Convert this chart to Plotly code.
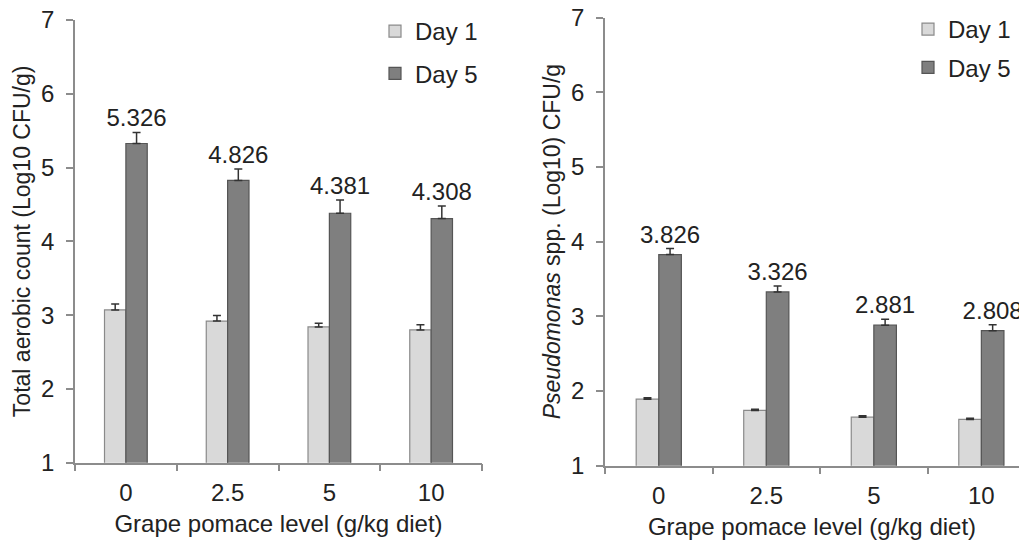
import plotly.graph_objects as go

categories = ["0", "2.5", "5", "10"]

# Left panel: total aerobic count
tac_day1 = [3.07, 2.92, 2.84, 2.80]
tac_day1_err = [0.08, 0.075, 0.05, 0.07]
tac_day5 = [5.326, 4.826, 4.381, 4.308]
tac_day5_err = [0.15, 0.155, 0.18, 0.17]

# Right panel: Pseudomonas spp.
ps_day1 = [1.89, 1.74, 1.65, 1.62]
ps_day1_err = [0.02, 0.015, 0.02, 0.015]
ps_day5 = [3.826, 3.326, 2.881, 2.808]
ps_day5_err = [0.08, 0.08, 0.08, 0.08]

FONT = "Liberation Sans, Arial, sans-serif"
TXT = "#222222"
AX = "#8c8c8c"
C1, C1L = "#d9d9d9", "#8a8a8a"
C5, C5L = "#7f7f7f", "#555555"
W = 0.21
FS = 24
FY = 23

idx = list(range(len(categories)))
fig = go.Figure()


def add_panel(d1, e1, d5, e5, xa, ya, legend):
    fig.add_trace(go.Bar(
        x=idx, y=d1, width=W, offset=-W, name="Day 1",
        marker=dict(color=C1, line=dict(color=C1L, width=1.2)),
        error_y=dict(type="data", array=e1, arrayminus=[0] * len(e1), symmetric=False,
                     color="#333333", thickness=1.5, width=4),
        xaxis=xa, yaxis=ya, legend=legend, legendgroup=legend + "a",
    ))
    fig.add_trace(go.Bar(
        x=idx, y=d5, width=W, offset=0, name="Day 5",
        marker=dict(color=C5, line=dict(color=C5L, width=1.2)),
        error_y=dict(type="data", array=e5, arrayminus=[0] * len(e5), symmetric=False,
                     color="#333333", thickness=1.5, width=4),
        xaxis=xa, yaxis=ya, legend=legend, legendgroup=legend + "b",
    ))
    fig.add_trace(go.Scatter(
        x=[i + W / 2 for i in idx], y=[v + e for v, e in zip(d5, e5)],
        mode="text", text=[f"{v:.3f}" for v in d5], textposition="top center",
        textfont=dict(family=FONT, size=FS, color=TXT),
        showlegend=False, cliponaxis=False, xaxis=xa, yaxis=ya, hoverinfo="skip",
    ))


add_panel(tac_day1, tac_day1_err, tac_day5, tac_day5_err, "x", "y", "legend")
add_panel(ps_day1, ps_day1_err, ps_day5, ps_day5_err, "x2", "y2", "legend2")

xcommon = dict(
    tickvals=idx, ticktext=categories, ticks="", showline=True, linecolor=AX, linewidth=1.5,
    showgrid=False, zeroline=False, tickfont=dict(family=FONT, size=FS, color=TXT),
    minor=dict(tickvals=[-0.5, 0.5, 1.5, 2.5, 3.5], ticks="outside", ticklen=7,
               tickcolor=AX, tickwidth=1.5, showgrid=False),
    ticklabelstandoff=8,
    title=dict(text="Grape pomace level (g/kg diet)", font=dict(family=FONT, size=FS, color=TXT), standoff=10),
)
ycommon = dict(
    range=[1, 7], tickvals=[1, 2, 3, 4, 5, 6, 7], ticks="outside", ticklen=7, tickcolor=AX,
    tickwidth=1.5, showline=True, linecolor=AX, linewidth=1.5, showgrid=False, zeroline=False,
    tickfont=dict(family=FONT, size=FS, color=TXT), ticklabelstandoff=7,
)

fig.update_layout(
    width=1019, height=540, margin=dict(l=0, r=0, t=0, b=0, autoexpand=False),
    paper_bgcolor="white", plot_bgcolor="white", barmode="overlay",
    font=dict(family=FONT, size=FS, color=TXT),
    xaxis=dict(domain=[75 / 1019, 482 / 1019], range=[-0.5, 3.5], anchor="y", **xcommon),
    yaxis=dict(domain=[1 - 462.7 / 540, 1 - 20 / 540], anchor="x",
               title=dict(text="Total aerobic count (Log10 CFU/g)",
                          font=dict(family=FONT, size=FY, color=TXT), standoff=4),
               **ycommon),
    xaxis2=dict(domain=[605 / 1019, 1.0], range=[-0.5, 3.35], anchor="y2", **xcommon),
    yaxis2=dict(domain=[1 - 465.7 / 540, 1 - 17.5 / 540], anchor="x2",
                title=dict(text="<i>Pseudomonas</i> spp. (Log10) CFU/g",
                           font=dict(family=FONT, size=FY, color=TXT), standoff=4),
                **ycommon),
    legend=dict(x=375 / 1019, y=1 - 9 / 540, xanchor="left", yanchor="top",
                bgcolor="rgba(0,0,0,0)", font=dict(family=FONT, size=FS, color=TXT),
                traceorder="grouped", tracegroupgap=8),
    legend2=dict(x=908 / 1019, y=1 - 7 / 540, xanchor="left", yanchor="top",
                 bgcolor="rgba(0,0,0,0)", font=dict(family=FONT, size=FS, color=TXT),
                 traceorder="grouped", tracegroupgap=4),
)

fig.write_html(
    "out.html",
    config={"displayModeBar": False},
    post_script="document.body.style.margin='0';document.body.style.overflow='hidden';",
)
